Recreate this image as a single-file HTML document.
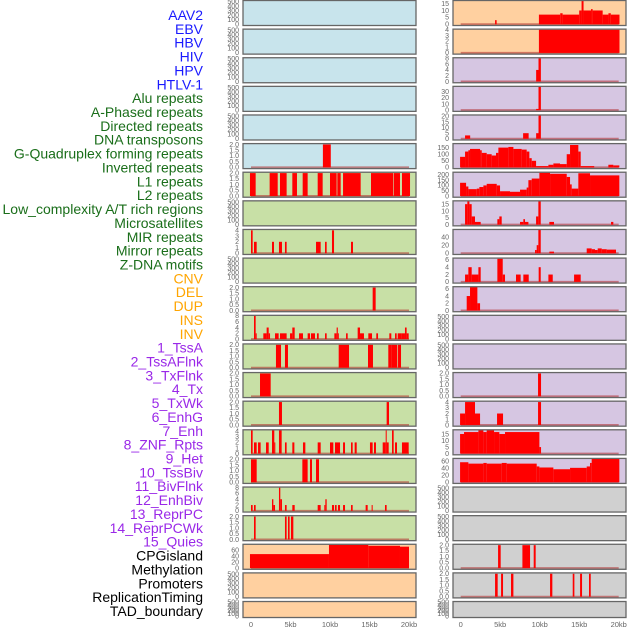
<!DOCTYPE html>
<html><head><meta charset="utf-8">
<style>
html,body{margin:0;padding:0;background:#fff;}
svg{display:block;font-family:"Liberation Sans",sans-serif;}
</style></head>
<body>
<svg id="chart" width="630" height="630" viewBox="0 0 630 630" xmlns="http://www.w3.org/2000/svg"></svg>
<script>
const trackLabels = ["AAV2","EBV","HBV","HIV","HPV","HTLV-1","Alu repeats","A-Phased repeats","Directed repeats","DNA transposons","G-Quadruplex forming repeats","Inverted repeats","L1 repeats","L2 repeats","Low_complexity A/T rich regions","Microsatellites","MIR repeats","Mirror repeats","Z-DNA motifs","CNV","DEL","DUP","INS","INV","1_TssA","2_TssAFlnk","3_TxFlnk","4_Tx","5_TxWk","6_EnhG","7_Enh","8_ZNF_Rpts","9_Het","10_TssBiv","11_BivFlnk","12_EnhBiv","13_ReprPC","14_ReprPCWk","15_Quies","CPGisland","Methylation","Promoters","ReplicationTiming","TAD_boundary"];
const labelGroups = [6,13,5,15,5];
const groupColors = ["#1a1aff","#1a6e1a","#ffa500","#9a28e8","#000000"];
const xTickValues = [0,5,10,15,20];
const xTickLabels = ["0","5kb","10kb","15kb","20kb"];

// bars: [startKb, endKb, value]
const r0R=[[4.35,4.55,3],[9.9,12.6,7],[12.6,12.9,8],[12.9,15.0,7],[15.0,15.3,10],[15.3,15.55,17],[15.55,16.5,10],[16.5,16.7,11],[16.7,17.97,10],[17.97,18.7,7],[18.7,19.0,8],[19.0,20.1,7]];
const r1R=[[9.9,20.1,4]];
const r2R=[[9.55,9.85,4],[9.85,10.15,8]];
const r3R=[[9.55,9.85,2],[9.85,10.15,38]];
const r4R=[[0.55,1.2,3],[7.9,8.6,5],[9.55,9.85,5],[9.85,10.15,21]];
const r5L=[[9.1,10.1,2]];
const r5R=[[-0.08,0.55,80],[0.55,0.97,120],[0.97,1.18,130],[1.18,2.45,140],[2.45,2.66,130],[2.66,3.29,110],[3.29,3.92,100],[3.92,4.47,90],[4.47,4.77,110],[4.77,6.03,150],[6.03,6.67,155],[6.67,7.72,140],[7.72,8.35,135],[8.35,8.69,120],[8.69,8.99,70],[8.99,9.54,50],[9.54,11.1,10],[11.1,11.73,20],[11.73,12.57,30],[12.57,13.42,25],[13.42,13.84,100],[13.84,14.89,170],[14.89,15.19,120],[15.19,16.9,10],[18.69,19.32,20],[19.32,20.08,15]];
const r6L=[[-0.13,0.59,2],[2.36,3.38,2],[3.67,4.51,2],[5.23,5.82,2],[6.54,7.17,2],[8.44,9.07,2],[10.0,10.84,2],[10.93,11.35,2],[11.65,13.88,2],[15.19,18.02,2],[18.1,18.86,2],[19.11,20.13,2]];
const r6R=[[-0.08,0.68,125],[0.68,0.97,90],[0.97,2.03,65],[2.03,2.36,70],[2.36,2.87,85],[2.87,3.29,100],[3.29,4.56,115],[4.56,4.98,100],[4.98,6.24,45],[6.24,7.51,40],[7.51,8.35,60],[8.35,8.57,80],[8.57,8.99,150],[8.99,9.96,165],[9.96,11.31,220],[11.31,13.42,210],[13.42,13.84,180],[13.84,14.05,110],[14.05,14.89,70],[14.89,16.37,215],[16.37,20.08,195]];
const r7R=[[0.55,0.84,15],[0.84,1.1,17],[1.1,1.39,15],[1.39,1.81,6],[1.81,2.53,2],[4.64,4.89,4],[4.89,5.19,6],[7.51,7.93,2],[7.93,8.14,4],[8.14,8.57,2],[9.54,9.83,6],[9.83,10.13,17],[11.22,11.81,2],[19.03,19.32,2]];
const r8L=[[0,0.21,4],[0.38,0.72,2],[2.66,2.91,2],[3.54,3.92,2],[4.3,4.51,2],[8.23,8.82,2],[9.37,9.58,2],[10.25,10.51,4],[12.66,12.91,2]];
const r8R=[[9.41,9.62,8],[9.62,9.83,20],[9.83,10.13,58],[11.22,11.81,4],[15.95,16.58,12],[16.58,17.0,10],[17.0,17.34,8],[17.34,17.85,12],[17.85,18.48,10],[18.48,19.66,9]];
const r9R=[[0.55,0.97,2],[0.97,1.39,4],[1.39,2.24,2],[2.24,2.53,4],[4.64,5.32,6.3],[5.32,5.61,2],[7.0,7.59,2],[7.93,8.61,2],[9.87,10.13,4],[11.1,11.65,2],[14.35,15.19,2]];
const r10L=[[15.4,15.78,2]];
const r10R=[[0.76,1.18,4],[1.18,2.11,6.5],[2.11,2.45,2]];
const r11L=[[0.38,0.59,8],[0.59,0.72,2],[1.56,1.98,2],[1.98,2.24,4],[2.24,2.41,2],[3.04,3.5,2],[3.67,4.51,2],[4.94,5.23,2],[5.23,5.53,4],[6.08,6.58,2],[7.17,7.47,2],[7.59,8.1,2],[8.35,8.57,2],[9.37,9.58,2],[10.55,10.84,2],[10.84,10.99,4],[10.99,11.05,2],[12.03,12.24,2],[13.5,13.8,4],[13.8,14.3,2],[14.85,15.32,2],[15.86,16.08,2],[17.51,17.76,2],[18.23,18.44,2],[18.57,19.07,2],[19.07,19.49,2],[19.49,19.7,4],[19.7,19.96,2]];
const r12L=[[3.16,3.8,2],[4.3,4.68,2],[11.1,12.41,2],[14.81,15.44,2],[17.38,17.81,2],[17.81,18.52,2],[18.61,18.99,2]];
const r13L=[[1.14,2.49,2]];
const r13R=[[9.79,10.17,2]];
const r14L=[[3.54,3.92,2],[17.17,17.47,2]];
const r14R=[[-0.08,0.55,2],[0.55,1.81,4],[1.81,2.45,2],[4.6,5.36,2],[9.79,10.17,4]];
const r15L=[[0,0.21,4.2],[0.38,0.72,2],[0.89,1.22,2],[1.9,2.24,2],[2.66,2.95,4.2],[2.95,3.04,2],[3.54,3.88,4.2],[4.3,4.51,2],[5.23,5.49,2],[6.58,6.88,2],[8.44,8.82,2],[10.0,10.42,2],[10.63,11.27,2],[11.65,11.9,2],[12.66,12.87,2],[13.12,13.38,2],[15.06,15.4,2],[15.57,15.82,2],[16.67,17.05,2],[17.05,17.17,4.2],[17.17,17.43,2],[17.85,18.06,4.2],[18.23,18.48,2],[19.11,19.96,2]];
const r15R=[[-0.08,0.42,15],[0.42,2.24,16.5],[2.24,2.87,18],[2.87,3.29,16.5],[3.29,4.22,18],[4.22,4.89,16.5],[4.89,5.61,15],[5.61,9.96,16.5],[9.96,10.17,5]];
const r16L=[[0,0.72,2],[6.5,7.17,2],[7.47,7.72,2],[8.23,8.61,2]];
const r16R=[[-0.08,0.97,57],[0.97,2.87,53],[2.87,3.29,55],[3.29,5.19,53],[5.19,5.82,55],[5.82,9.62,53],[9.62,9.96,45],[9.96,11.73,42],[11.73,13.84,37],[13.84,15.95,41],[15.95,16.37,45],[16.37,16.58,55],[16.58,20.08,67]];
const r17L=[[0,0.21,2],[0.38,0.59,2],[2.66,2.83,4],[2.83,3.04,2],[3.54,3.71,8],[3.71,3.92,4],[4.3,4.51,2],[5.23,5.53,2],[8.44,8.82,2],[9.28,9.41,2],[9.41,9.58,4],[10.25,10.51,2],[10.63,10.84,2],[11.01,11.27,2],[11.65,11.9,2],[12.66,12.87,2],[14.51,14.77,2],[15.27,15.4,2],[16.96,17.17,2]];
const r18L=[[0.38,0.59,2],[4.3,4.51,2],[4.68,4.89,2],[5.06,5.36,2]];
const r19L=[[-0.13,9.87,47],[9.87,14.85,78],[14.85,18.86,75],[18.86,20.0,72]];
const r19R=[[4.73,5.06,2],[7.81,8.78,2],[9.24,9.49,2]];
const r20R=[[4.35,4.68,2],[5.11,5.36,2],[6.37,6.67,2],[11.31,11.6,2],[14.18,14.39,2],[15.11,15.36,2],[16.24,16.46,2]];

const emptyTicks=[0,100,200,300,400,500];
const t2=[0,0.5,1.0,1.5,2.0];
const t2lab=["0.0","0.5","1.0","1.5","2.0"];
const BL="#c8e4ec",GR="#c8e0a6",PE="#ffd0a0",LA="#d6c6e2",GY="#d0d0d0";
// each: [bg, bars, ymax, ticks, tickLabels]
function E(bg){return [bg,null,520,emptyTicks,emptyTicks.map(String)];}
const leftPanels=[E(BL),E(BL),E(BL),E(BL),E(BL),[BL,r5L,2.05,t2,t2lab],[GR,r6L,2.05,t2,t2lab],E(GR),[GR,r8L,4.1,[0,1,2,3,4],["0","1","2","3","4"]],E(GR),[GR,r10L,2.05,t2,t2lab],[GR,r11L,8.1,[0,2,4,6,8],["0","2","4","6","8"]],[GR,r12L,2.05,t2,t2lab],[GR,r13L,2.05,t2,t2lab],[GR,r14L,2.05,t2,t2lab],[GR,r15L,4.2,[0,1,2,3,4],["0","1","2","3","4"]],[GR,r16L,2.05,t2,t2lab],[GR,r17L,8.1,[0,2,4,6,8],["0","2","4","6","8"]],[GR,r18L,2.05,t2,t2lab],[PE,r19L,79,[0,20,40,60],["0","20","40","60"]],E(PE),E(PE)];
const rightPanels=[[PE,r0R,17,[0,5,10,15],["0","5","10","15"]],[PE,r1R,4.05,[0,1,2,3,4],["0","1","2","3","4"]],[LA,r2R,8.1,[0,2,4,6,8],["0","2","4","6","8"]],[LA,r3R,38,[0,10,20,30],["0","10","20","30"]],[LA,r4R,21,[0,5,10,15,20],["0","5","10","15","20"]],[LA,r5R,178,[0,50,100,150],["0","50","100","150"]],[LA,r6R,222,[0,50,100,150,200],["0","50","100","150","200"]],[LA,r7R,17.2,[0,5,10,15],["0","5","10","15"]],[LA,r8R,58,[0,20,40],["0","20","40"]],[LA,r9R,6.4,[0,2,4,6],["0","2","4","6"]],[LA,r10R,6.5,[0,2,4,6],["0","2","4","6"]],E(LA),E(LA),[LA,r13R,2.05,t2,t2lab],[LA,r14R,4.1,[0,1,2,3,4],["0","1","2","3","4"]],[LA,r15R,18,[0,5,10,15],["0","5","10","15"]],[LA,r16R,67,[0,20,40,60],["0","20","40","60"]],E(GY),E(GY),[GY,r19R,2.05,t2,t2lab],[GY,r20R,2.05,t2,t2lab],E(GY)];

const svg=document.getElementById('chart');
const NS="http://www.w3.org/2000/svg";
function mk(tag,attrs,parent){const e=document.createElementNS(NS,tag);for(const k in attrs)e.setAttribute(k,attrs[k]);(parent||svg).appendChild(e);return e;}

// labels
let idx=0;
labelGroups.forEach((n,g)=>{for(let k=0;k<n;k++){const t=mk('text',{x:203,y:(20+idx*13.86).toFixed(1),'text-anchor':'end','font-size':'14',fill:groupColors[g]});


t.textContent=trackLabels[idx];idx++;}});

const cols=[{x0:243,x1:416,zero:251,tickX:239,panels:leftPanels,name:'left'},{x0:453,x1:626,zero:460.7,tickX:449,panels:rightPanels,name:'right'}];
const kbPx=7.9;
cols.forEach(c=>{
  const xs=kb=>c.zero+kb*kbPx;
  c.panels.forEach((p,i)=>{
    const top=0.5+i*28.62, h=(i===21)?16:25, bot=top+h-1.2;
    const ys=v=>bot-(v/p[2])*(h-1.5);
    const g=mk('g',{});
    
    
    mk('rect',{x:c.x0,y:top,width:c.x1-c.x0,height:h,fill:p[0]},g);
    if(p[1]){
      mk('line',{x1:xs(0),x2:xs(20),y1:bot,y2:bot,stroke:'#b02a2a','stroke-opacity':0.55,'stroke-width':2},g);
      p[1].forEach(b=>{const r=mk('rect',{x:xs(b[0]).toFixed(2),y:ys(b[2]).toFixed(2),width:Math.max(1,xs(b[1])-xs(b[0])).toFixed(2),height:(bot-ys(b[2])).toFixed(2),fill:'#ff0000'},g);
        
        });
    }
    mk('rect',{x:c.x0,y:top,width:c.x1-c.x0,height:h,fill:'none',stroke:'#666','stroke-width':1.3},g);
    p[3].forEach((tv,j)=>{const t=mk('text',{x:c.tickX,y:(ys(tv)+2.3).toFixed(1),'text-anchor':'end','font-size':'7',fill:'#666'},g);
      
      
      t.textContent=p[4][j];});
  });
  xTickValues.forEach((v,j)=>{const t=mk('text',{x:xs(v).toFixed(1),y:627,'text-anchor':'middle','font-size':'7.5',fill:'#666'});
    
    
    t.textContent=xTickLabels[j];});
});
</script>
</body></html>
